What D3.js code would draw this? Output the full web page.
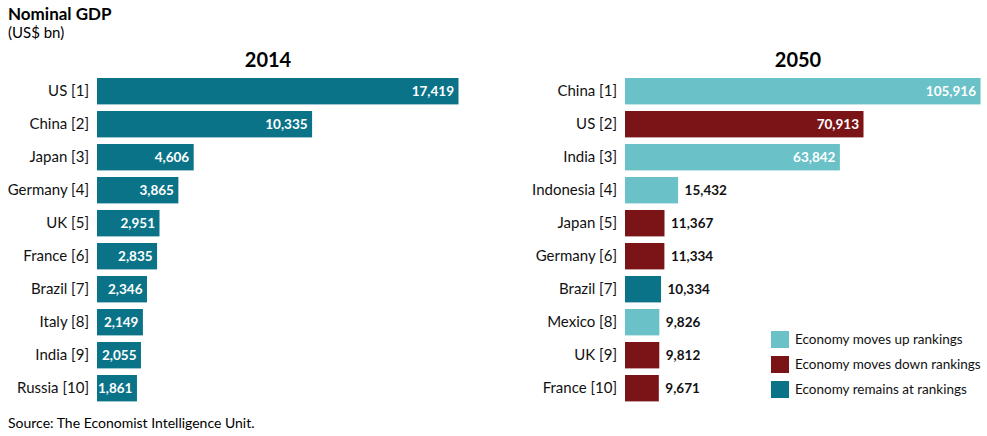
<!DOCTYPE html>
<html>
<head>
<meta charset="utf-8">
<script src="https://cdn.jsdelivr.net/npm/d3@7"></script>
<style>
  body { margin: 0; background: #fff; }
  text { font-family: Lato, "Noto Sans", sans-serif; }
</style>
</head>
<body>
<div id="chart-area"></div>
<script>
// DATA
var countries2014 = ["US [1]", "China [2]", "Japan [3]", "Germany [4]", "UK [5]",
	"France [6]", "Brazil [7]", "Italy [8]", "India [9]", "Russia [10]"];
var gdp2014 = [17419, 10335, 4606, 3865, 2951, 2835, 2346, 2149, 2055, 1861];

var countries2050 = ["China [1]", "US [2]", "India [3]", "Indonesia [4]", "Japan [5]",
	"Germany [6]", "Brazil [7]", "Mexico [8]", "UK [9]", "France [10]"];
var gdp2050 = [105916, 70913, 63842, 15432, 11367, 11334, 10334, 9826, 9812, 9671];
var status2050 = ["up", "down", "up", "up", "down", "down", "same", "up", "down", "down"];

var legendKeys = ["up", "down", "same"];
var legendLabels = ["Economy moves up rankings", "Economy moves down rankings", "Economy remains at rankings"];

var width = 987, height = 436;

var svg = d3.select("#chart-area")
	.append("svg")
	.attr("width", width)
	.attr("height", height);

var color = d3.scaleOrdinal()
	.domain(legendKeys)
	.range(["#6ac1c8", "#7a1417", "#0b7388"]);

var fmt = d3.format(",");

// TITLES
svg.append("text")
	.attr("x", 8).attr("y", 20)
	.attr("font-size", "17px")
	.attr("font-weight", "bold")
	.text("Nominal GDP");

svg.append("text")
	.attr("x", 8).attr("y", 38)
	.attr("font-size", "15px")
	.text("(US$ bn)");

svg.append("text")
	.attr("x", 8).attr("y", 428)
	.attr("font-size", "14px")
	.text("Source: The Economist Intelligence Unit.");

// one panel of bars
function panel(opts) {
	var x = d3.scaleLinear()
		.domain([0, d3.max(opts.values)])
		.range([opts.x0, opts.x1]);

	var y = d3.scaleBand()
		.domain(opts.names)
		.range([74.7, 404.7])
		.paddingInner(0.2)
		.paddingOuter(0.1);

	var rows = opts.names.map(function (n, i) {
		return { name: n, value: opts.values[i], key: opts.keys ? opts.keys[i] : "same" };
	});

	var g = svg.append("g");

	g.append("text")
		.attr("x", opts.titleX)
		.attr("y", 67)
		.attr("text-anchor", "middle")
		.attr("font-size", "20px")
		.attr("font-weight", "bold")
		.text(opts.title);

	// category labels
	var yAxis = d3.axisLeft(y).tickSize(0).tickPadding(8);
	var ax = g.append("g")
		.attr("transform", "translate(" + opts.x0 + ",0)")
		.call(yAxis);
	ax.select(".domain").remove();
	ax.selectAll("text")
		.attr("font-size", "15px")
		.attr("fill", "#111")
		.style("font-family", "Lato, 'Noto Sans', sans-serif");

	g.selectAll("rect.bar")
		.data(rows)
		.enter()
		.append("rect")
		.attr("class", "bar")
		.attr("x", x(0))
		.attr("y", function (d) { return y(d.name); })
		.attr("width", function (d) { return x(d.value) - x(0) + 1.5; })
		.attr("height", y.bandwidth())
		.attr("fill", function (d) { return color(d.key); });

	g.selectAll("text.val")
		.data(rows)
		.enter()
		.append("text")
		.attr("class", "val")
		.attr("font-size", "13.5px")
		.attr("font-weight", "bold")
		.attr("dy", "0.36em")
		.attr("y", function (d) { return y(d.name) + y.bandwidth() / 2; })
		.each(function (d) {
			var w = x(d.value) - x(0);
			var inside = w > opts.minInside;
			d3.select(this)
				.attr("x", inside ? x(d.value) - 3 : x(d.value) + 8)
				.attr("text-anchor", inside ? "end" : "start")
				.attr("fill", inside ? "#fff" : "#111");
		})
		.text(function (d) { return fmt(d.value); });
}

panel({ names: countries2014, values: gdp2014, x0: 97, x1: 457, title: "2014", titleX: 268, minInside: 0 });
panel({ names: countries2050, values: gdp2050, keys: status2050, x0: 625, x1: 979, title: "2050", titleX: 798, minInside: 100 });

// LEGEND
var legend = svg.append("g");
var ly = d3.scaleBand().domain(legendKeys).range([328, 403]);

legend.selectAll("rect")
	.data(legendKeys)
	.enter()
	.append("rect")
	.attr("x", 771)
	.attr("y", function (d) { return ly(d) + 3; })
	.attr("width", 18)
	.attr("height", 17)
	.attr("fill", function (d) { return color(d); });

legend.selectAll("text")
	.data(legendKeys)
	.enter()
	.append("text")
	.attr("x", 795)
	.attr("y", function (d) { return ly(d) + 11.5; })
	.attr("dy", "0.36em")
	.attr("font-size", "13.5px")
	.attr("fill", "#111")
	.text(function (d, i) { return legendLabels[i]; });
</script>
</body>
</html>
